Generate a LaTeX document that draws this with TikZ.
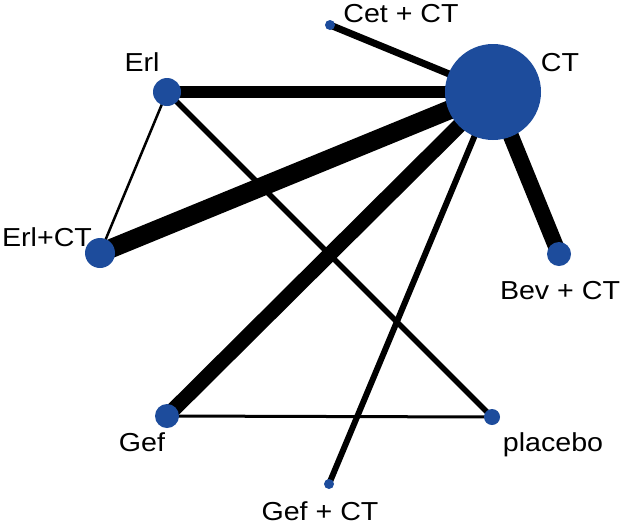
\documentclass[tikz,border=0pt]{standalone}
\usepackage{fontspec}
\setmainfont{Liberation Sans}[FakeStretch=1.1]
\usetikzlibrary{backgrounds}
\definecolor{dotblue}{HTML}{1D4C9C}
\tikzset{
  dot/.style={circle,fill=dotblue,draw=none,inner sep=0pt},
  lbl/.style={anchor=base,inner sep=0pt,font=\fontsize{26}{28}\selectfont},
  edge/.style={draw=black,line cap=butt}
}
\begin{document}
\begin{tikzpicture}[x=1pt,y=-1pt]
\useasboundingbox (0,0) rectangle (623,528);
% nodes
\node[dot,minimum size=96pt] (ct) at (493,92) {};
\node[dot,minimum size=10pt] (cet) at (330,25) {};
\node[dot,minimum size=28pt] (erl) at (167,92) {};
\node[dot,minimum size=30pt] (erlct) at (100,253) {};
\node[dot,minimum size=24pt] (bev) at (559,254) {};
\node[dot,minimum size=24pt] (gef) at (167,416) {};
\node[dot,minimum size=16pt] (plac) at (492,417) {};
\node[dot,minimum size=10pt] (gefct) at (329,484) {};
% edges
\begin{scope}[on background layer]
\draw[edge,line width=7pt] (ct.center) -- (cet.center);
\draw[edge,line width=12pt] (ct.center) -- (erl.center);
\draw[edge,line width=19pt] (ct.center) -- (erlct.center);
\draw[edge,line width=16pt] (ct.center) -- (bev.center);
\draw[edge,line width=15pt] (ct.center) -- (gef.center);
\draw[edge,line width=6pt] (ct.center) -- (gefct.center);
\draw[edge,line width=2.5pt] (erl.center) -- (erlct.center);
\draw[edge,line width=5.5pt] (erl.center) -- (plac.center);
\draw[edge,line width=3pt] (gef.center) -- (plac.center);
\end{scope}
% labels
\node[lbl] (tcet) at (401,22) {Cet + CT};
\node[lbl] (tct) at (560,71) {CT};
\node[lbl] (terl) at (142,71) {Erl};
\node[lbl] (terlct) at (47,246) {Erl+CT};
\node[lbl] (tbev) at (560,299) {Bev + CT};
\node[lbl] (tgef) at (142,451) {Gef};
\node[lbl] (tplac) at (553,451) {placebo};
\node[lbl] (tgefct) at (320,520) {Gef + CT};
\end{tikzpicture}
\end{document}
